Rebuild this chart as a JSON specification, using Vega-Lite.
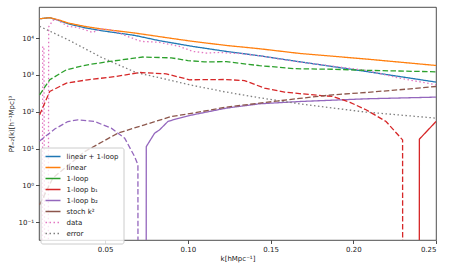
{
  "$schema": "https://vega.github.io/schema/vega-lite/v6.json",
  "width": 397,
  "height": 233,
  "autosize": {"type": "none"},
  "padding": {"left": 39, "top": 7, "right": 14, "bottom": 29},
  "background": "white",
  "config": {
    "font": "DejaVu Sans",
    "view": {"stroke": "#222222", "strokeWidth": 0.8},
    "axis": {"grid": false, "domain": false, "tickColor": "#222222", "tickWidth": 0.8, "tickSize": 3.5, "labelFontSize": 7, "labelColor": "#222222", "titleFontSize": 7, "titleFontWeight": "normal", "titleColor": "#222222", "labelFont": "DejaVu Sans", "titleFont": "DejaVu Sans"},
    "legend": {"title": null, "orient": "none", "legendX": 1.5, "legendY": 140.5, "padding": 4,
      "fillColor": "rgba(255,255,255,0.8)", "strokeColor": "#cccccc", "cornerRadius": 2,
      "symbolType": "stroke", "symbolSize": 225, "symbolStrokeWidth": 1.5, "clipHeight": 10.2, "rowPadding": 0,
      "labelFontSize": 7, "labelOffset": 5, "labelColor": "#222222", "labelFont": "DejaVu Sans"}
  },
  "datasets": {
    "curves": [
      {"k": 0.0104, "P": 33400, "name": "linear + 1-loop", "part": "s"},
      {"k": 0.0165, "P": 35600, "name": "linear + 1-loop", "part": "s"},
      {"k": 0.0225, "P": 29500, "name": "linear + 1-loop", "part": "s"},
      {"k": 0.0275, "P": 24500, "name": "linear + 1-loop", "part": "s"},
      {"k": 0.0376, "P": 19000, "name": "linear + 1-loop", "part": "s"},
      {"k": 0.0477, "P": 15800, "name": "linear + 1-loop", "part": "s"},
      {"k": 0.0678, "P": 11800, "name": "linear + 1-loop", "part": "s"},
      {"k": 0.0829, "P": 8450, "name": "linear + 1-loop", "part": "s"},
      {"k": 0.103, "P": 5910, "name": "linear + 1-loop", "part": "s"},
      {"k": 0.1232, "P": 4330, "name": "linear + 1-loop", "part": "s"},
      {"k": 0.1433, "P": 3300, "name": "linear + 1-loop", "part": "s"},
      {"k": 0.1675, "P": 2270, "name": "linear + 1-loop", "part": "s"},
      {"k": 0.2077, "P": 1240, "name": "linear + 1-loop", "part": "s"},
      {"k": 0.25, "P": 637, "name": "linear + 1-loop", "part": "s"},

      {"k": 0.0104, "P": 33400, "name": "linear", "part": "s"},
      {"k": 0.0165, "P": 35600, "name": "linear", "part": "s"},
      {"k": 0.0225, "P": 30500, "name": "linear", "part": "s"},
      {"k": 0.0275, "P": 25600, "name": "linear", "part": "s"},
      {"k": 0.0376, "P": 20700, "name": "linear", "part": "s"},
      {"k": 0.0477, "P": 17600, "name": "linear", "part": "s"},
      {"k": 0.0678, "P": 13700, "name": "linear", "part": "s"},
      {"k": 0.09, "P": 9800, "name": "linear", "part": "s"},
      {"k": 0.103, "P": 8100, "name": "linear", "part": "s"},
      {"k": 0.1232, "P": 6290, "name": "linear", "part": "s"},
      {"k": 0.1433, "P": 5120, "name": "linear", "part": "s"},
      {"k": 0.1675, "P": 3820, "name": "linear", "part": "s"},
      {"k": 0.2077, "P": 2690, "name": "linear", "part": "s"},
      {"k": 0.25, "P": 1800, "name": "linear", "part": "s"},

      {"k": 0.0104, "P": 288, "name": "1-loop", "part": "d"},
      {"k": 0.0165, "P": 736, "name": "1-loop", "part": "d"},
      {"k": 0.0266, "P": 1380, "name": "1-loop", "part": "d"},
      {"k": 0.0394, "P": 1880, "name": "1-loop", "part": "d"},
      {"k": 0.0527, "P": 2310, "name": "1-loop", "part": "d"},
      {"k": 0.0728, "P": 3050, "name": "1-loop", "part": "d"},
      {"k": 0.0899, "P": 2900, "name": "1-loop", "part": "d"},
      {"k": 0.1, "P": 2450, "name": "1-loop", "part": "d"},
      {"k": 0.11, "P": 2250, "name": "1-loop", "part": "d"},
      {"k": 0.1232, "P": 2280, "name": "1-loop", "part": "d"},
      {"k": 0.1433, "P": 1780, "name": "1-loop", "part": "d"},
      {"k": 0.165, "P": 1470, "name": "1-loop", "part": "d"},
      {"k": 0.1875, "P": 1420, "name": "1-loop", "part": "d"},
      {"k": 0.2077, "P": 1330, "name": "1-loop", "part": "d"},
      {"k": 0.25, "P": 1210, "name": "1-loop", "part": "d"},

      {"k": 0.0104, "P": 82.4, "name": "1-loop b₁", "part": "d"},
      {"k": 0.0165, "P": 354, "name": "1-loop b₁", "part": "d"},
      {"k": 0.0266, "P": 598, "name": "1-loop b₁", "part": "d"},
      {"k": 0.0394, "P": 736, "name": "1-loop b₁", "part": "d"},
      {"k": 0.0568, "P": 906, "name": "1-loop b₁", "part": "d"},
      {"k": 0.0708, "P": 1160, "name": "1-loop b₁", "part": "d"},
      {"k": 0.0869, "P": 1070, "name": "1-loop b₁", "part": "d"},
      {"k": 0.101, "P": 736, "name": "1-loop b₁", "part": "d"},
      {"k": 0.1222, "P": 750, "name": "1-loop b₁", "part": "d"},
      {"k": 0.1342, "P": 700, "name": "1-loop b₁", "part": "d"},
      {"k": 0.1463, "P": 437, "name": "1-loop b₁", "part": "d"},
      {"k": 0.1584, "P": 340, "name": "1-loop b₁", "part": "d"},
      {"k": 0.1675, "P": 310, "name": "1-loop b₁", "part": "d"},
      {"k": 0.1876, "P": 259, "name": "1-loop b₁", "part": "d"},
      {"k": 0.198, "P": 180, "name": "1-loop b₁", "part": "d"},
      {"k": 0.2077, "P": 113, "name": "1-loop b₁", "part": "d"},
      {"k": 0.2198, "P": 54.2, "name": "1-loop b₁", "part": "d"},
      {"k": 0.2298, "P": 17.2, "name": "1-loop b₁", "part": "d"},
      {"k": 0.22985, "P": 0.001, "name": "1-loop b₁", "part": "d"},
      {"k": 0.2399, "P": 0.001, "name": "1-loop b₁", "part": "s"},
      {"k": 0.23995, "P": 18, "name": "1-loop b₁", "part": "s"},
      {"k": 0.25, "P": 54.2, "name": "1-loop b₁", "part": "s"},

      {"k": 0.0104, "P": 16, "name": "1-loop b₂", "part": "d"},
      {"k": 0.0195, "P": 34, "name": "1-loop b₂", "part": "d"},
      {"k": 0.0275, "P": 54.2, "name": "1-loop b₂", "part": "d"},
      {"k": 0.0334, "P": 60.2, "name": "1-loop b₂", "part": "d"},
      {"k": 0.0436, "P": 54.2, "name": "1-loop b₂", "part": "d"},
      {"k": 0.0537, "P": 35.8, "name": "1-loop b₂", "part": "d"},
      {"k": 0.0618, "P": 19.2, "name": "1-loop b₂", "part": "d"},
      {"k": 0.0678, "P": 6.06, "name": "1-loop b₂", "part": "d"},
      {"k": 0.0698, "P": 3.61, "name": "1-loop b₂", "part": "d"},
      {"k": 0.06985, "P": 0.001, "name": "1-loop b₂", "part": "d"},
      {"k": 0.0748, "P": 0.001, "name": "1-loop b₂", "part": "s"},
      {"k": 0.07485, "P": 11.3, "name": "1-loop b₂", "part": "s"},
      {"k": 0.0799, "P": 26.2, "name": "1-loop b₂", "part": "s"},
      {"k": 0.0829, "P": 32.2, "name": "1-loop b₂", "part": "s"},
      {"k": 0.0879, "P": 54.2, "name": "1-loop b₂", "part": "s"},
      {"k": 0.093, "P": 64, "name": "1-loop b₂", "part": "s"},
      {"k": 0.103, "P": 82.4, "name": "1-loop b₂", "part": "s"},
      {"k": 0.1232, "P": 125, "name": "1-loop b₂", "part": "s"},
      {"k": 0.1433, "P": 164, "name": "1-loop b₂", "part": "s"},
      {"k": 0.1675, "P": 189, "name": "1-loop b₂", "part": "s"},
      {"k": 0.2077, "P": 224, "name": "1-loop b₂", "part": "s"},
      {"k": 0.25, "P": 249, "name": "1-loop b₂", "part": "s"},

      {"k": 0.0104, "P": 0.3, "name": "stoch k²", "part": "d"},
      {"k": 0.0183, "P": 1.57, "name": "stoch k²", "part": "d"},
      {"k": 0.0376, "P": 8.28, "name": "stoch k²", "part": "d"},
      {"k": 0.0577, "P": 26.2, "name": "stoch k²", "part": "d"},
      {"k": 0.0738, "P": 44.1, "name": "stoch k²", "part": "d"},
      {"k": 0.09, "P": 74.1, "name": "stoch k²", "part": "d"},
      {"k": 0.103, "P": 91.6, "name": "stoch k²", "part": "d"},
      {"k": 0.1232, "P": 133, "name": "stoch k²", "part": "d"},
      {"k": 0.1433, "P": 171, "name": "stoch k²", "part": "d"},
      {"k": 0.1675, "P": 230, "name": "stoch k²", "part": "d"},
      {"k": 0.1876, "P": 288, "name": "stoch k²", "part": "d"},
      {"k": 0.2077, "P": 333, "name": "stoch k²", "part": "d"},
      {"k": 0.2278, "P": 394, "name": "stoch k²", "part": "d"},
      {"k": 0.25, "P": 484, "name": "stoch k²", "part": "d"},

      {"k": 0.012, "P": 0.001, "name": "data", "part": "s"},
      {"k": 0.01225, "P": 6000, "name": "data", "part": "s"},
      {"k": 0.013, "P": 5000, "name": "data", "part": "s"},
      {"k": 0.01345, "P": 0.001, "name": "data", "part": "s"},
      {"k": 0.0156, "P": 0.001, "name": "data", "part": "s"},
      {"k": 0.01585, "P": 20000, "name": "data", "part": "s"},
      {"k": 0.0183, "P": 30000, "name": "data", "part": "s"},
      {"k": 0.0207, "P": 31400, "name": "data", "part": "s"},
      {"k": 0.0275, "P": 20700, "name": "data", "part": "s"},
      {"k": 0.0334, "P": 19400, "name": "data", "part": "s"},
      {"k": 0.0394, "P": 15800, "name": "data", "part": "s"},
      {"k": 0.0424, "P": 14200, "name": "data", "part": "s"},
      {"k": 0.0477, "P": 17600, "name": "data", "part": "s"},
      {"k": 0.0537, "P": 16800, "name": "data", "part": "s"},
      {"k": 0.0636, "P": 11000, "name": "data", "part": "s"},
      {"k": 0.0718, "P": 8100, "name": "data", "part": "s"},
      {"k": 0.0799, "P": 7790, "name": "data", "part": "s"},
      {"k": 0.0829, "P": 7600, "name": "data", "part": "s"},
      {"k": 0.095, "P": 5910, "name": "data", "part": "s"},
      {"k": 0.103, "P": 4330, "name": "data", "part": "s"},
      {"k": 0.1111, "P": 3910, "name": "data", "part": "s"},
      {"k": 0.1191, "P": 4060, "name": "data", "part": "s"},
      {"k": 0.133, "P": 3750, "name": "data", "part": "s"},
      {"k": 0.1433, "P": 3300, "name": "data", "part": "s"},
      {"k": 0.1675, "P": 2230, "name": "data", "part": "s"},
      {"k": 0.2077, "P": 1320, "name": "data", "part": "s"},
      {"k": 0.2278, "P": 819, "name": "data", "part": "s"},
      {"k": 0.25, "P": 538, "name": "data", "part": "s"},

      {"k": 0.0104, "P": 20700, "name": "error", "part": "s"},
      {"k": 0.0275, "P": 9000, "name": "error", "part": "s"},
      {"k": 0.0477, "P": 3000, "name": "error", "part": "s"},
      {"k": 0.0688, "P": 1150, "name": "error", "part": "s"},
      {"k": 0.0829, "P": 834, "name": "error", "part": "s"},
      {"k": 0.101, "P": 538, "name": "error", "part": "s"},
      {"k": 0.1222, "P": 347, "name": "error", "part": "s"},
      {"k": 0.1433, "P": 239, "name": "error", "part": "s"},
      {"k": 0.1675, "P": 164, "name": "error", "part": "s"},
      {"k": 0.2077, "P": 97.6, "name": "error", "part": "s"},
      {"k": 0.25, "P": 67, "name": "error", "part": "s"}
    ]
  },
  "data": {"name": "curves"},
  "encoding": {
    "x": {
      "field": "k", "type": "quantitative",
      "scale": {"domain": [0.01, 0.25], "nice": false, "zero": false},
      "axis": {"title": "k[hMpc⁻¹]", "values": [0.05, 0.1, 0.15, 0.2, 0.25], "format": ".2f", "labelPadding": 1.5, "titlePadding": 2}
    },
    "y": {
      "field": "P", "type": "quantitative",
      "scale": {"type": "log", "domain": [0.033, 69500], "nice": false, "zero": false},
      "axis": {"title": "Pℓ₌₂(k)[h⁻¹Mpc]³", "values": [0.1, 1, 10, 100, 1000, 10000],
        "labelExpr": "datum.value < 0.5 ? '10⁻¹' : datum.value < 5 ? '10⁰' : datum.value < 50 ? '10¹' : datum.value < 500 ? '10²' : datum.value < 5000 ? '10³' : '10⁴'",
        "labelPadding": 2, "titlePadding": 4}
    },
    "color": {
      "field": "name", "type": "nominal",
      "scale": {"domain": ["linear + 1-loop", "linear", "1-loop", "1-loop b₁", "1-loop b₂", "stoch k²", "data", "error"],
                "range": ["#1f77b4", "#ff7f0e", "#2ca02c", "#d62728", "#9467bd", "#8c564b", "#e377c2", "#7f7f7f"]}
    }
  },
  "layer": [
    {
      "transform": [{"filter": "datum.part == 's'"}],
      "mark": {"type": "line", "clip": true, "strokeWidth": 1.3},
      "encoding": {
        "strokeDash": {
          "field": "name", "type": "nominal",
          "scale": {"domain": ["linear + 1-loop", "linear", "1-loop", "1-loop b₁", "1-loop b₂", "stoch k²", "data", "error"],
                    "range": [[1, 0], [1, 0], [1, 0], [1, 0], [1, 0], [1, 0], [1.5, 2.5], [1.5, 2.5]]}
        }
      }
    },
    {
      "transform": [{"filter": "datum.part == 'd'"}],
      "mark": {"type": "line", "clip": true, "strokeWidth": 1.3, "strokeDash": [5.5, 2.4]}
    }
  ]
}
